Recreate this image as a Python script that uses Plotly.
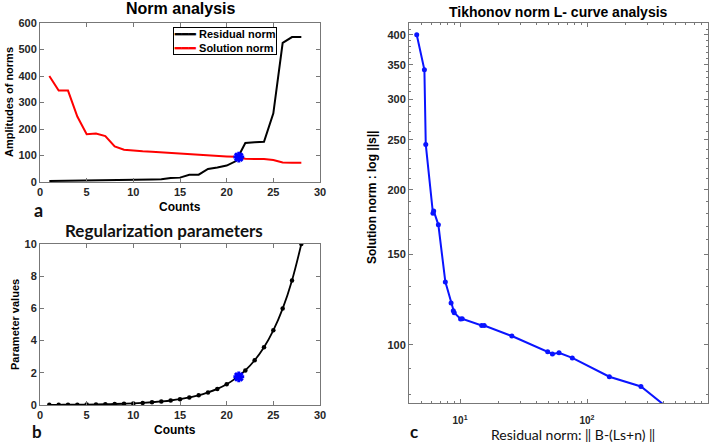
import plotly.graph_objects as go

# ---- data ----
counts = list(range(1, 29))
residual_norm = [4, 4.3, 4.6, 5, 5.5, 6, 6.5, 7, 7.6, 8.5, 9, 9.5, 10.5, 15, 16.5,
                 27, 27.5, 49, 55, 62, 79, 147, 150, 152, 259, 525, 547, 547]
solution_norm = [400, 345, 345, 247, 180, 183, 173, 134, 121.5, 118, 116, 114.5, 112,
                 110.5, 109, 105.5, 104, 99, 97.5, 96.5, 95, 88, 86.5, 86.5, 83, 74, 72.5, 72.5]
reg_param = [0.01, 0.013, 0.017, 0.022, 0.029, 0.037, 0.048, 0.062, 0.08, 0.1, 0.13,
             0.17, 0.22, 0.28, 0.36, 0.47, 0.6, 0.78, 1.0, 1.29, 1.67, 2.15, 2.78,
             3.59, 4.64, 5.99, 7.74, 10.0]
corner_count = [21.3]
corner_norm = [94]
corner_param = [1.75]

lc_residual = [4.56, 5.24, 5.37, 6.12, 6.2, 6.75, 7.66, 8.5, 8.85, 9.0, 10.1, 10.4,
               14.8, 15.5, 25.6, 49, 53.4, 60.2, 76.6, 150, 266, 547]
lc_solution = [400, 342, 245, 180, 182, 171, 132.5, 120.5, 116.4, 115.4, 112.2, 112.3,
               109, 109, 104, 96.9, 96, 96.5, 94.3, 86.7, 83, 72]

tick_x_lin = [0, 5, 10, 15, 20, 25, 30]
tick_a_y = [0, 100, 200, 300, 400, 500, 600]
tick_b_y = [0, 2, 4, 6, 8, 10]
tick_c_y = [100, 150, 200, 250, 300, 350, 400]
tick_c_x = [10, 100]
tick_c_x_text = ["10<sup>1</sup>", "10<sup>2</sup>"]
legend_names = ["Residual norm", "Solution norm"]
legend_colors = ["black", "red"]

W, H = 710, 446
def px(x): return x / W
def py(y): return 1 - y / H

AX = "Liberation Sans"
CAL = "Lato"
TXT = "#262626"
FRAME = "#777777"

fig = go.Figure()

# panel a
fig.add_trace(go.Scatter(x=counts, y=residual_norm, mode="lines", name=legend_names[0],
                         line=dict(color=legend_colors[0], width=2), xaxis="x", yaxis="y"))
fig.add_trace(go.Scatter(x=counts, y=solution_norm, mode="lines", name=legend_names[1],
                         line=dict(color=legend_colors[1], width=2), xaxis="x", yaxis="y"))
fig.add_trace(go.Scatter(x=corner_count, y=corner_norm, mode="markers",
                         marker=dict(symbol="asterisk-open", size=9, color="blue",
                                     line=dict(color="blue", width=3)),
                         xaxis="x", yaxis="y"))
# panel b
fig.add_trace(go.Scatter(x=counts, y=reg_param, mode="lines+markers",
                         line=dict(color="black", width=1.8, shape="spline"),
                         marker=dict(color="black", size=4.5),
                         xaxis="x2", yaxis="y2"))
fig.add_trace(go.Scatter(x=corner_count, y=corner_param, mode="markers",
                         marker=dict(symbol="asterisk-open", size=9, color="blue",
                                     line=dict(color="blue", width=3)),
                         xaxis="x2", yaxis="y2"))
# panel c
fig.add_trace(go.Scatter(x=lc_residual, y=lc_solution, mode="lines+markers",
                         line=dict(color="#0a14ff", width=2),
                         marker=dict(color="#0a14ff", size=5),
                         xaxis="x3", yaxis="y3"))

common = dict(showline=True, linecolor=FRAME, linewidth=1, mirror="allticks",
              ticks="inside", ticklen=4, tickcolor=FRAME, showgrid=False, zeroline=False,
              tickfont=dict(family=AX, size=11, color=TXT, weight="bold"))

minor_x3 = [5, 6, 7, 8, 9, 20, 30, 40, 50, 60, 70, 80, 90, 200, 300, 400, 500, 600, 700, 800]

fig.update_layout(
    width=W, height=H, margin=dict(l=0, r=0, t=0, b=0, autoexpand=False),
    paper_bgcolor="white", plot_bgcolor="white", showlegend=False,
    hovermode=False,
    xaxis=dict(domain=[px(40), px(320)], range=[0, 30], tickvals=tick_x_lin,
               anchor="y", **common),
    yaxis=dict(domain=[py(182), py(23)], range=[0, 600], tickvals=tick_a_y,
               anchor="x", **common),
    xaxis2=dict(domain=[px(40), px(320)], range=[0, 30], tickvals=tick_x_lin,
                anchor="y2", **common),
    yaxis2=dict(domain=[py(405), py(244)], range=[0, 10], tickvals=tick_b_y,
                anchor="x2", **common),
    xaxis3=dict(domain=[px(409), px(708)], type="log", range=[0.598, 2.953],
                tickvals=tick_c_x, ticktext=tick_c_x_text, anchor="y3",
                ticklabelstandoff=8,
                minor=dict(ticks="inside", ticklen=2, tickcolor=FRAME, showgrid=False,
                           tickvals=minor_x3),
                **common),
    yaxis3=dict(domain=[py(403), py(23)], type="log", range=[1.887, 2.625],
                tickvals=tick_c_y, anchor="x3",
                minor=dict(ticks="inside", ticklen=2, tickcolor=FRAME, showgrid=False,
                           tickvals=list(range(80, 430, 10))),
                **common),
)
fig.update_xaxes(tickfont_size=10, selector=dict(type="log"))

ann = []
def A(text, x, y, size, family=AX, bold=True, angle=0, **kw):
    d = dict(text=text, x=px(x), y=py(y), xref="paper", yref="paper",
             showarrow=False, xanchor="center", yanchor="middle", textangle=angle,
             font=dict(family=family, size=size, color="black" if family == AX else "#111",
                       weight="bold" if bold else "normal"))
    d.update(kw)
    ann.append(d)

A("Norm analysis", 180, 9, 16)
A("Counts", 180, 207, 12)
A("Amplitudes of norms", 9, 102, 11, angle=-90)
A("a", 38, 210, 18, family=CAL)

A("Regularization parameters", 164, 230, 17, family=CAL)
A("Counts", 175, 430, 12)
A("Parameter values", 15, 325, 11, angle=-90)
A("b", 37, 431, 17, family=CAL)

A("Tikhonov norm L- curve analysis", 558, 12, 14)
A("Solution norm : log ||s||", 372, 198, 12, angle=-90)
A("Residual norm: \u2016 B-(Ls+n) \u2016", 573, 434, 14, family=CAL, bold=False)
A("c", 414, 431, 17, family=CAL)

# legend for panel a (box with line samples and series names)
legend_text = "<br>".join(
    f"<span style='color:{c}'>\u2501\u2501\u2501</span> {n}"
    for n, c in zip(legend_names, legend_colors))
ann.append(dict(text=legend_text, x=px(277), y=py(27), xref="paper", yref="paper",
                showarrow=False, xanchor="right", yanchor="top", align="left",
                font=dict(family=AX, size=11, color="black", weight="bold"),
                bordercolor="black", borderwidth=1, bgcolor="white", borderpad=0))

fig.update_layout(annotations=ann)
fig.write_html("out.html", config={"displayModeBar": False},
               post_script="document.body.style.margin='0px';"
                           "document.body.style.overflow='hidden';")
